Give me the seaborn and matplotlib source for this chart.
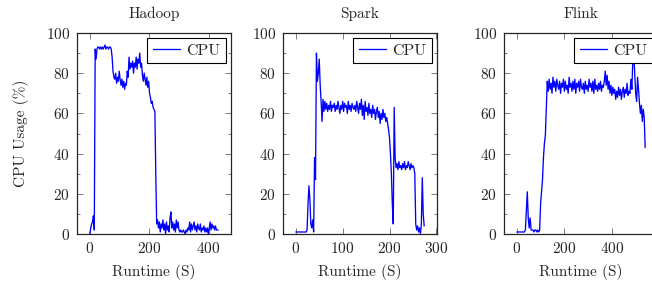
import matplotlib
matplotlib.use("Agg")
import numpy as np
import pandas as pd
import matplotlib.pyplot as plt
from matplotlib.ticker import MultipleLocator
import seaborn as sns

# CPU usage samples (%), one sample per step seconds
hadoop_step = 3
hadoop_cpu = [0, 3, 5, 6, 9, 2, 92, 87, 92, 93, 93, 92, 93, 92, 93, 92, 93, 94, 92, 93,
              93, 92, 93, 93, 92, 88, 81, 78, 77, 80, 75, 78, 76, 81, 77, 74, 77, 73, 76, 72,
              75, 74, 81, 78, 88, 82, 85, 83, 86, 80, 85, 83, 88, 82, 87, 85, 90, 83, 85, 79,
              76, 80, 77, 74, 78, 73, 76, 70, 68, 65, 66, 63, 62, 61, 30, 5, 7, 3, 6, 1,
              5, 3, 7, 2, 5, 0, 6, 2, 4, 1, 8, 11, 3, 6, 2, 5, 1, 7, 3, 6,
              2, 1, 2, 1, 1, 2, 1, 0, 2, 1, 3, 2, 6, 1, 5, 2, 4, 6, 2, 4,
              1, 5, 3, 2, 5, 1, 3, 2, 4, 1, 3, 1, 3, 0, 3, 6, 2, 5, 3, 4,
              2, 4, 2, 2, 2]

spark_step = 2
spark_cpu = [1, 1, 1, 1, 1, 1, 1, 1, 1, 1, 1, 1, 2, 15, 24, 17, 5, 3, 7, 1,
             38, 27, 90, 76, 80, 87, 74, 66, 56, 67, 61, 66, 62, 65, 61, 64, 62, 66, 61, 64,
             63, 65, 61, 64, 62, 66, 63, 60, 64, 62, 66, 61, 65, 63, 64, 60, 66, 62, 64, 61,
             65, 63, 62, 64, 61, 66, 63, 60, 65, 62, 67, 59, 64, 57, 66, 61, 63, 59, 65, 60,
             62, 58, 64, 60, 62, 57, 61, 63, 58, 61, 55, 60, 57, 62, 58, 60, 56, 58, 55, 52,
             48, 40, 30, 15, 5, 63, 38, 33, 35, 32, 36, 33, 34, 32, 35, 33, 36, 32, 34, 33,
             36, 34, 32, 35, 33, 34, 33, 30, 5, 2, 4, 1, 3, 0, 5, 28, 10, 4]

flink_step = 4
flink_cpu = [1, 1, 1, 1, 1, 1, 1, 1, 1, 2, 12, 21, 8, 3, 8, 2, 2, 2, 1, 2,
             2, 1, 2, 1, 2, 15, 21, 27, 38, 45, 49, 62, 76, 71, 77, 72, 75, 70, 78, 73,
             76, 71, 77, 74, 72, 76, 70, 75, 73, 77, 71, 76, 72, 74, 70, 78, 73, 75, 71, 76,
             72, 77, 70, 75, 73, 76, 71, 77, 73, 72, 75, 70, 76, 72, 74, 71, 77, 73, 75, 71,
             76, 70, 77, 72, 74, 71, 75, 72, 76, 71, 74, 73, 76, 81, 74, 79, 72, 76, 70, 74,
             69, 73, 70, 72, 67, 71, 68, 73, 69, 72, 67, 71, 73, 68, 72, 70, 75, 69, 71, 70,
             77, 72, 86, 90, 80, 70, 66, 78, 72, 65, 60, 64, 56, 62, 58, 43]

panels = ["Hadoop", "Spark", "Flink"]
series = [hadoop_cpu, spark_cpu, flink_cpu]
steps = [hadoop_step, spark_step, flink_step]
xticks = [[0, 200, 400], [0, 100, 200, 300], [0, 200, 400]]

sns.set_style("ticks")
plt.rcParams['font.family'] = ['cmr10', 'DejaVu Serif']
plt.rcParams['axes.formatter.use_mathtext'] = True
plt.rcParams['mathtext.fontset'] = 'cm'
plt.rcParams['font.size'] = 11

fig = plt.figure(figsize=(6.52, 2.86), dpi=100)
W, H = 652, 286
lefts = [77, 283, 504]
bottom, top = 234, 33
width = 154

for i, name in enumerate(panels):
    ax = fig.add_axes([lefts[i] / W, (H - bottom) / H, width / W, (bottom - top) / H])
    vals = series[i]
    df = pd.DataFrame({"t": np.arange(len(vals)) * steps[i], "cpu": vals})
    sns.lineplot(data=df, x="t", y="cpu", ax=ax, color="blue", linewidth=0.95,
                 label="CPU", sort=False, estimator=None)
    tmax = df["t"].max()
    ax.set_xlim(-0.1 * tmax, 1.1 * tmax)
    ax.set_ylim(0, 100)
    ax.set_xticks(xticks[i])
    ax.set_yticks([0, 20, 40, 60, 80, 100])
    ax.yaxis.set_minor_locator(MultipleLocator(10))
    ax.tick_params(which="both", direction="in", top=True, right=True,
                   color="0.4", width=0.6, labelsize=11)
    ax.tick_params(which="major", length=4, pad=5)
    ax.tick_params(which="minor", length=2.5)
    for s in ax.spines.values():
        s.set_linewidth(0.9)
        s.set_color("0.15")
    ax.set_title(name, fontsize=11, pad=11)
    ax.set_xlabel("Runtime (S)", fontsize=11, labelpad=6)
    if i == 0:
        ax.set_ylabel("CPU Usage (%)", fontsize=11, labelpad=12)
    else:
        ax.set_ylabel("")
    leg = ax.legend(loc="upper right", frameon=True, fancybox=False, edgecolor="black",
                    framealpha=1, borderaxespad=0.3, handlelength=1.7, borderpad=0.35,
                    handletextpad=0.4, fontsize=11.5)
    leg.get_frame().set_linewidth(0.8)

fig.savefig("out.png", dpi=100)
